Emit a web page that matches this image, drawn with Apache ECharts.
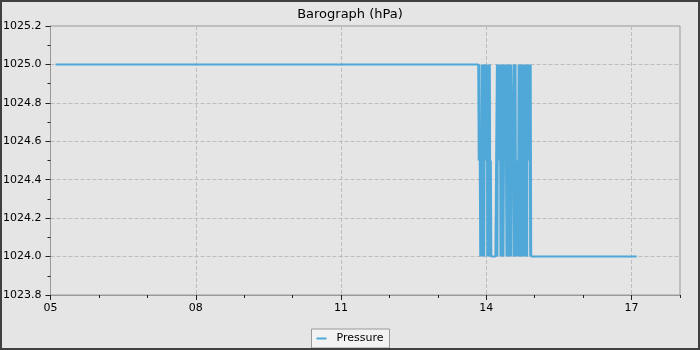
<!DOCTYPE html>
<html>
<head>
<meta charset="utf-8">
<script src="https://cdn.jsdelivr.net/npm/echarts@6/dist/echarts.min.js"></script>
<style>
html,body{margin:0;padding:0;background:#e5e5e5;}
#wrap{position:relative;width:700px;height:350px;}
#chart{width:700px;height:350px;}
#frame{position:absolute;left:0;top:0;width:700px;height:350px;box-sizing:border-box;border:2px solid #404040;pointer-events:none;}
</style>
</head>
<body>
<div id="wrap"><div id="chart"></div><div id="frame"></div></div>
<script>
// ---- data (day of month, HH:MM) ----
const seriesName = 'Pressure';
const titleText = 'Barograph (hPa)';
const firstDay = 5;
const lastDay = 18;
const startTime = '05 02:30';
const startValue = 1025.0;
// burst of readings taken every 15 minutes
const burstStart = '13 20:00';
const burstStepMinutes = 15;
const burstValues = [
  1025, 1024.5, 1025, 1024.5, 1024, 1024.5, 1024, 1025, 1024, 1025,
  1024, 1025, 1024, 1025, 1024.5, 1025, 1024.5, 1025, 1024, 1025,
  1024, 1025, 1024, 1025, 1024, 1024.5, 1024, 1024, 1024, 1024,
  1024, 1024, 1024, 1024, 1024, 1024, 1024, 1025, 1024, 1025,
  1024.5, 1025, 1024.5, 1025, 1024, 1025, 1024, 1025, 1024, 1025,
  1024, 1024.5, 1025, 1024.5, 1025, 1024.5, 1024, 1025, 1024, 1024.5,
  1024, 1025, 1024, 1025, 1024, 1025, 1024, 1024.5, 1024.5, 1024.5,
  1025, 1024, 1025, 1024, 1025, 1024, 1024.5, 1024, 1024.5, 1024,
  1025, 1024, 1025, 1024, 1025, 1024, 1025, 1024, 1025, 1024,
  1024.5, 1024, 1025, 1024, 1025, 1024, 1025, 1024, 1025, 1024.5,
  1025, 1024.5, 1025, 1024, 1025, 1024, 1024
];
const endTime = '17 02:30';
const endValue = 1024.0;
const xLabelDays = [5, 8, 11, 14, 17];
const yMin = 1023.8, yMax = 1025.2, yStep = 0.2;

// ---- build ----
function toOffset(s) { // 'DD HH:MM' -> days since firstDay 00:00
  const [d, hm] = s.split(' ');
  const [h, m] = hm.split(':').map(Number);
  return Number(d) + h / 24 + m / 1440 - firstDay;
}
const data = [[toOffset(startTime), startValue]];
const b0 = toOffset(burstStart);
burstValues.forEach((v, i) => data.push([b0 + i * burstStepMinutes / 1440, v]));
data.push([toOffset(endTime), endValue]);

const FONT = 'DejaVu Sans';
const chart = echarts.init(document.getElementById('chart'), null, {renderer: 'canvas'});
chart.setOption({
  backgroundColor: '#e5e5e5',
  animation: false,
  title: {
    text: titleText, left: 'center', top: 3,
    textStyle: {fontFamily: FONT, fontSize: 13, fontWeight: 'normal', color: '#000'}
  },
  legend: {
    bottom: 2, left: 'center',
    data: [{name: seriesName, icon: 'rect'}],
    itemWidth: 10, itemHeight: 2,
    backgroundColor: '#f2f2f2', borderColor: '#999', borderWidth: 1, borderRadius: 0,
    padding: [4, 6, 4, 5],
    textStyle: {fontFamily: FONT, fontSize: 11, color: '#000', padding: [0, 5, 0, 5]}
  },
  grid: {left: 50, right: 20, top: 26, bottom: 55, show: true, borderColor: '#999', borderWidth: 1, backgroundColor: 'transparent'},
  xAxis: [{
    type: 'value', min: 0, max: lastDay - firstDay, interval: 3,
    axisLine: {show: true, lineStyle: {color: '#999'}},
    axisTick: {show: true, length: 5, lineStyle: {color: '#222'}, customValues: xLabelDays.map(d => d - firstDay)},
    axisLabel: {
      fontFamily: FONT, fontSize: 11, color: '#000', margin: 8,
      customValues: xLabelDays.map(d => d - firstDay),
      formatter: v => (Math.abs(v % 3) < 1e-9 ? String(v + firstDay).padStart(2, '0') : '')
    },
    splitLine: {show: true, lineStyle: {color: '#bdbdbd', type: [4, 2]}}
  }, {
    type: 'value', min: 0, max: lastDay - firstDay, interval: 1, position: 'bottom',
    axisLine: {show: false},
    axisTick: {show: true, length: 3, lineStyle: {color: '#222'}},
    axisLabel: {show: false},
    splitLine: {show: false}
  }],
  yAxis: {
    type: 'value', min: yMin, max: yMax, interval: yStep,
    axisLine: {show: true, lineStyle: {color: '#999'}},
    axisTick: {show: true, length: 5, lineStyle: {color: '#222'}},
    minorTick: {show: true, splitNumber: 2, length: 3, lineStyle: {color: '#222'}},
    axisLabel: {fontFamily: FONT, fontSize: 11, color: '#000', margin: 9, formatter: v => v.toFixed(1)},
    splitLine: {show: true, lineStyle: {color: '#bdbdbd', type: [4, 2]}}
  },
  series: [{
    name: seriesName, type: 'line', xAxisIndex: 0, data: data,
    showSymbol: false, symbol: 'none',
    lineStyle: {color: '#4fa8d8', width: 2, join: 'bevel'},
    itemStyle: {color: '#4fa8d8'}
  }]
});
</script>
</body>
</html>
